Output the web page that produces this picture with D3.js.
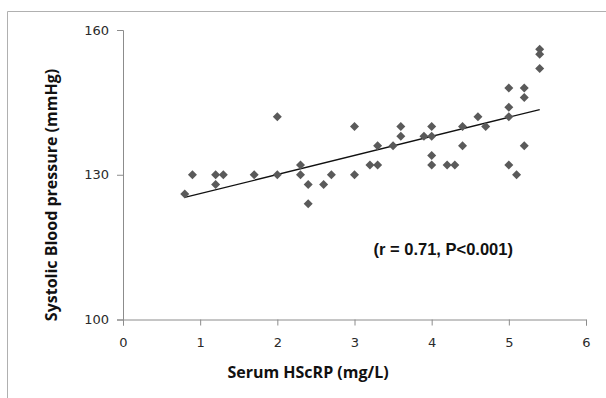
<!DOCTYPE html>
<html>
<head>
<meta charset="utf-8">
<script src="https://cdn.jsdelivr.net/npm/d3@7"></script>
<style>
  html, body { margin: 0; padding: 0; background: #fff; }
  svg { display: block; }
</style>
</head>
<body>
<svg id="chart" width="606" height="398"></svg>
<script>
// ---- data ----
const hscrp = [0.8, 0.9, 1.2, 1.2, 1.3, 1.7, 2.0, 2.0, 2.3, 2.3, 2.4, 2.4, 2.6, 2.7,
               3.0, 3.0, 3.2, 3.3, 3.3, 3.5, 3.6, 3.6, 3.9, 4.0, 4.0, 4.0, 4.0, 4.2, 4.3,
               4.4, 4.4, 4.6, 4.7, 5.0, 5.0, 5.0, 5.0, 5.1, 5.2, 5.2, 5.2, 5.4, 5.4, 5.4];
const sbp   = [126, 130, 130, 128, 130, 130, 142, 130, 132, 130, 128, 124, 128, 130,
               140, 130, 132, 132, 136, 136, 140, 138, 138, 140, 138, 134, 132, 132, 132,
               140, 136, 142, 140, 148, 144, 142, 132, 130, 148, 146, 136, 156, 155, 152];
const trendX = [0.8, 5.4];
const trendY = [125.3, 143.5];
const xTicks = [0, 1, 2, 3, 4, 5, 6];
const yTicks = [100, 130, 160];
const xTitle = "Serum HScRP (mg/L)";
const yTitle = "Systolic Blood pressure (mmHg)";
const note = "(r = 0.71, P<0.001)";

// ---- drawing ----
const svg = d3.select("#chart");
const titleFont = "'Open Sans', 'Liberation Sans', sans-serif";
const tickFont = "'DejaVu Sans', Verdana, sans-serif";

// outer frame (partial, as in reference)
svg.append("path")
  .attr("d", "M7.5,398 L7.5,11.5 L606,11.5")
  .attr("fill", "none").attr("stroke", "#b0b0b0").attr("stroke-width", 1);

const x = d3.scaleLinear().domain([0, 6]).range([123, 586]);
const y = d3.scaleLinear().domain([100, 160]).range([319.5, 30]);

// y axis
const gy = svg.append("g").attr("transform", `translate(${x(0)},0)`)
  .call(d3.axisLeft(y).tickValues(yTicks).tickSize(6).tickPadding(8).tickFormat(d3.format("d")));
// x axis
const gx = svg.append("g").attr("transform", `translate(0,${y(100)})`)
  .call(d3.axisBottom(x).tickValues(xTicks).tickSize(6).tickPadding(12).tickFormat(d3.format("d")));

[gx, gy].forEach(g => {
  g.select(".domain").attr("stroke", "#8c8c8c");
  g.selectAll(".tick line").attr("stroke", "#8c8c8c");
  g.selectAll(".tick text").attr("fill", "#2a2a2a").style("font-family", tickFont).style("font-size", "13px");
});

// trend line
svg.append("line")
  .attr("x1", x(trendX[0])).attr("y1", y(trendY[0]))
  .attr("x2", x(trendX[1])).attr("y2", y(trendY[1]))
  .attr("stroke", "#111").attr("stroke-width", 1.3);

// points (diamonds)
const pts = hscrp.map((v, i) => ({ x: v, y: sbp[i] }));
svg.append("g").selectAll("path").data(pts).join("path")
  .attr("d", "M0,-4.5L4.5,0L0,4.5L-4.5,0Z")
  .attr("transform", d => `translate(${x(d.x)},${y(d.y)})`)
  .attr("fill", "#5a5a5a");

// annotation
svg.append("text")
  .attr("x", x(4.15)).attr("y", y(113.3))
  .attr("text-anchor", "middle")
  .style("font-family", "'Liberation Sans', Arial, sans-serif")
  .style("font-weight", "bold").style("font-size", "16.5px")
  .attr("fill", "#111")
  .text(note);

// axis titles
svg.append("text")
  .attr("x", 308).attr("y", 378)
  .attr("text-anchor", "middle")
  .style("font-family", titleFont).style("font-weight", "bold").style("font-size", "16px")
  .attr("fill", "#111")
  .text(xTitle);

svg.append("text")
  .attr("transform", "translate(57,195) rotate(-90)")
  .attr("text-anchor", "middle")
  .style("font-family", titleFont).style("font-weight", "bold").style("font-size", "16px")
  .attr("fill", "#111")
  .text(yTitle);
</script>
</body>
</html>
